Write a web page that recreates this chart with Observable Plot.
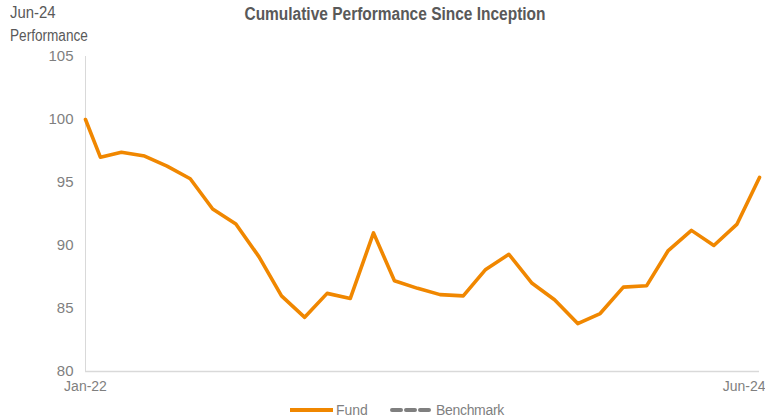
<!DOCTYPE html>
<html>
<head>
<meta charset="utf-8">
<script src="https://cdn.jsdelivr.net/npm/d3@7"></script>
<script src="https://cdn.jsdelivr.net/npm/@observablehq/plot@0.6"></script>
<style>
  body { margin: 0; background: #fff; }
  #wrap { position: relative; width: 765px; height: 420px; overflow: hidden; font-family: "Liberation Sans", Arial, sans-serif; }
  #wrap > svg { position: absolute; left: 0; top: 0; }
  .ov { position: absolute; white-space: nowrap; color: #595959; }
  #asof { left: 10px; top: 4px; font-size: 16px; transform-origin: left center; transform: scaleX(0.93); }
  #ylab { left: 10px; top: 27px; font-size: 16px; transform-origin: left center; transform: scaleX(0.85); }
  #title { left: 395px; top: 4px; font-size: 18px; font-weight: bold; transform: translateX(-50%) scaleX(0.86); }
  #legend { left: 290px; top: 402px; font-size: 14px; color: #7f7f7f; display: flex; align-items: center; }
  .sw { display: inline-block; width: 43px; height: 4px; margin-right: 3px; }
</style>
</head>
<body>
<div id="wrap">
  <div class="ov" id="asof">Jun-24</div>
  <div class="ov" id="ylab">Performance</div>
  <div class="ov" id="title">Cumulative Performance Since Inception</div>
  <div class="ov" id="legend"></div>
</div>
<script>
const dates = [
  "2022-01-11","2022-01-31","2022-02-28","2022-03-31","2022-04-30","2022-05-31","2022-06-30",
  "2022-07-31","2022-08-31","2022-09-30","2022-10-31","2022-11-30","2022-12-31",
  "2023-01-31","2023-02-28","2023-03-31","2023-04-30","2023-05-31","2023-06-30",
  "2023-07-31","2023-08-31","2023-09-30","2023-10-31","2023-11-30","2023-12-31",
  "2024-01-31","2024-02-29","2024-03-31","2024-04-30","2024-05-31","2024-06-30"
];
const fund = [
  100, 97.0, 97.4, 97.1, 96.3, 95.3, 92.9,
  91.7, 89.1, 86.0, 84.3, 86.2, 85.8,
  91.0, 87.2, 86.6, 86.1, 86.0, 88.1,
  89.3, 87.0, 85.7, 83.8, 84.6, 86.7,
  86.8, 89.6, 91.2, 90.0, 91.7, 95.4
];
const yTicks = [80, 85, 90, 95, 100, 105];
const xTickLabels = ["Jan-22", "Jun-24"];
const seriesNames = ["Fund", "Benchmark"];

const parse = d3.utcParse("%Y-%m-%d");
const data = dates.map((d, i) => ({date: parse(d), value: fund[i]}));
const first = data[0].date, last = data[data.length - 1].date;

const orange = "#F08700";
const axisGray = "#d9d9d9";
const textGray = "#7f7f7f";

const chart = Plot.plot({
  width: 765,
  height: 420,
  marginLeft: 85,
  marginRight: 6,
  marginTop: 56,
  marginBottom: 49,
  style: {fontFamily: "'Liberation Sans', Arial, sans-serif", fontSize: "14px", color: textGray, background: "transparent"},
  x: {type: "utc", domain: [first, last]},
  y: {domain: [80, 105]},
  marks: [
    Plot.ruleX([first], {stroke: axisGray, strokeWidth: 1}),
    Plot.ruleY([80], {stroke: axisGray, strokeWidth: 1.5}),
    Plot.axisY({ticks: yTicks, tickSize: 0, tickPadding: 12, label: null, fill: textGray, fontSize: 15}),
    Plot.axisX({ticks: [first], tickSize: 0, tickPadding: 10, tickFormat: () => xTickLabels[0], label: null, fill: textGray, fontSize: 14}),
    Plot.axisX({ticks: [last], tickSize: 0, tickPadding: 10, tickFormat: () => xTickLabels[1], label: null, fill: textGray, fontSize: 14, textAnchor: "end", dx: 6}),
    Plot.line(data, {x: "date", y: "value", stroke: orange, strokeWidth: 3.6, strokeLinejoin: "round"})
  ]
});
document.getElementById("wrap").prepend(chart);

const legend = document.getElementById("legend");
legend.innerHTML =
  `<span class="sw" style="background:${orange}"></span><span style="margin-right:22px">${seriesNames[0]}</span>` +
  `<svg width="43" height="6" style="margin-right:3px"><line x1="2" y1="3" x2="41" y2="3" stroke="#7f7f7f" stroke-width="4" stroke-dasharray="9,5" stroke-linecap="round"/></svg><span style="letter-spacing:-0.3px">${seriesNames[1]}</span>`;
</script>
</body>
</html>
